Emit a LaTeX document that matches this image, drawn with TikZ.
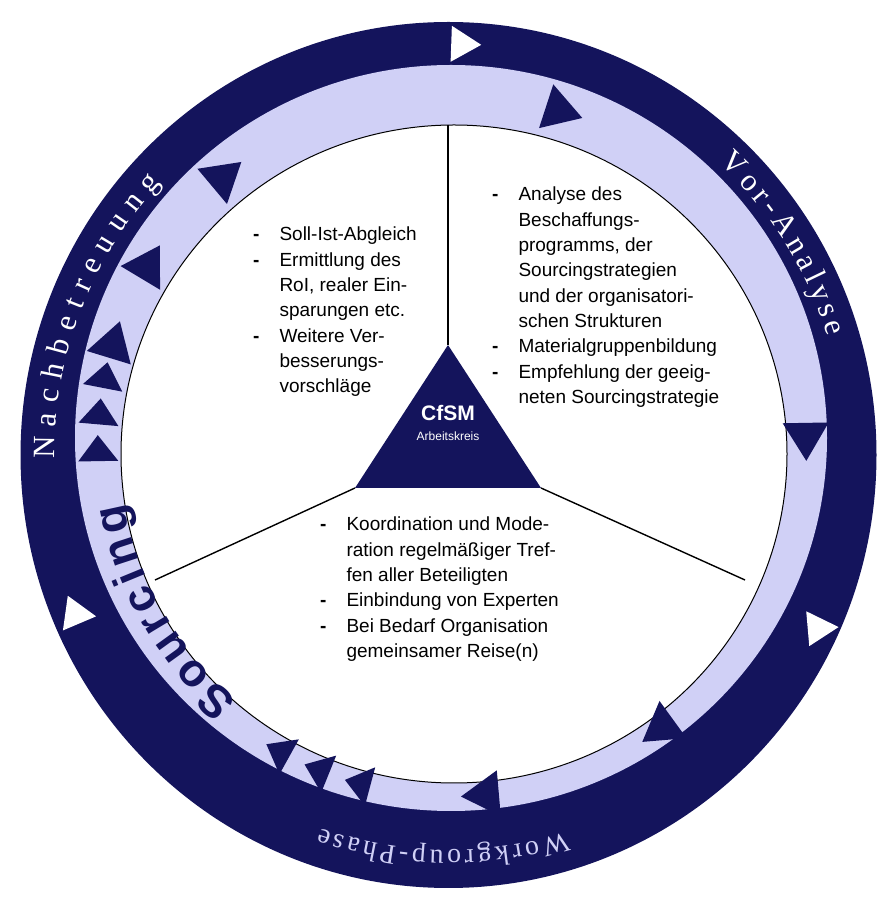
\documentclass[tikz,border=0pt]{standalone}
\usepackage{fontspec}
\setmainfont{Liberation Sans}
\newfontfamily\serifx{Liberation Serif}
\usetikzlibrary{decorations.text}
\definecolor{navy}{RGB}{20,20,92}
\definecolor{lav}{RGB}{208,208,246}
\begin{document}
\begin{tikzpicture}[x=1pt,y=1pt,
  dtri/.style={fill=navy},
  wtri/.style={fill=white},
  ytext/.style={anchor=north west,inner sep=0pt,font=\fontsize{19}{25.3}\selectfont},
  yline/.style={draw=black,line width=1.4pt}]
\useasboundingbox (0,0) rectangle (896,900);
\fill[navy] (448.5,445) ellipse [x radius=428, y radius=433];
\fill[lav] (451,462) ellipse [x radius=376, y radius=373];
\fill[white,draw=black,line width=1pt] (454,446) ellipse [x radius=333, y radius=329];
% dark triangles on light band
\foreach \t in {72,130,149,163,1,-54,-85}{
  \begin{scope}[shift={({452+354*cos(\t)},{455+351*sin(\t)})},rotate=\t-90]
  \fill[dtri] (-16,-23) -- (22,0) -- (-16,23) -- cycle;
  \end{scope}}
\foreach \t in {169,175,181,-105,-112,-119}{
  \begin{scope}[shift={({452+354*cos(\t)},{455+351*sin(\t)})},rotate=\t-90]
  \fill[dtri] (-10,-20) -- (16,0) -- (-10,20) -- cycle;
  \end{scope}}
% white triangles on dark band
\foreach \t in {88,-26,203}{
  \begin{scope}[shift={({450+408*cos(\t)},{448+408*sin(\t)})},rotate=\t-90]
  \fill[wtri] (-13,-18) -- (17,0) -- (-13,18) -- cycle;
  \end{scope}}
% Y lines and centre triangle
\coordinate (top) at (448,775);
\coordinate (apex) at (448,555);
\coordinate (bl) at (355,412);
\coordinate (br) at (541,412);
\coordinate (el) at (155,320);
\coordinate (er) at (745,320);
\draw[yline] (top) -- (apex);
\draw[yline] (bl) -- (el);
\draw[yline] (br) -- (er);
\fill[navy] (apex) -- (bl) -- (br) -- cycle;
\node[white,font=\bfseries\fontsize{21}{21}\selectfont] (cfsm) at (448,487) {CfSM};
\node[white,font=\fontsize{12}{12}\selectfont] (ak) at (448,464) {Arbeitskreis};
% text blocks
\node[ytext] (right) at (492,717) {\begin{tabular}{@{}l@{\hspace{20pt}}l@{}}
\textbf{-} & Analyse des\\ & Beschaffungs-\\ & programms, der\\ & Sourcingstrategien\\ & und der organisatori-\\ & schen Strukturen\\
\textbf{-} & Materialgruppenbildung\\ \textbf{-} & Empfehlung der geeig-\\ & neten Sourcingstrategie\end{tabular}};
\node[ytext] (left) at (253,677) {\begin{tabular}{@{}l@{\hspace{20pt}}l@{}}
\textbf{-} & Soll-Ist-Abgleich\\ \textbf{-} & Ermittlung des\\ & RoI, realer Ein-\\ & sparungen etc.\\ \textbf{-} & Weitere Ver-\\ & besserungs-\\ & vorschläge\end{tabular}};
\node[ytext] (bottom) at (320,387) {\begin{tabular}{@{}l@{\hspace{20pt}}l@{}}
\textbf{-} & Koordination und Mode-\\ & ration regelmäßiger Tref-\\ & fen aller Beteiligten\\ \textbf{-} & Einbindung von Experten\\ \textbf{-} & Bei Bedarf Organisation\\ & gemeinsamer Reise(n)\end{tabular}};
% curved labels
\path[decorate,decoration={text along path,text align=fit to path,text color=white,
  text={|\serifx\fontsize{31}{31}\selectfont|Vor-Analyse}}]
  ({450+395*cos(47)},{448+395*sin(47)}) arc[start angle=47,end angle=17,radius=395];
\path[decorate,decoration={text along path,text align=fit to path,text color=white,
  text={|\serifx\fontsize{31}{31}\selectfont|Nachbetreuung}}]
  ({450+395*cos(181)},{448+395*sin(181)}) arc[start angle=181,end angle=137,radius=395];
\path[decorate,decoration={text along path,text align=fit to path,text color=lav,
  text={|\serifx\fontsize{28}{28}\selectfont|Workgroup-Phase}}]
  ({450+398*cos(-73)},{448+398*sin(-73)}) arc[start angle=-73,end angle=-109,radius=398];
\path[decorate,decoration={text along path,text align=fit to path,text color=navy,
  text={|\bfseries\fontsize{46}{46}\selectfont|Sourcing}}]
  ({452+333*cos(230)},{455+333*sin(230)}) arc[start angle=230,end angle=190,radius=333];
\end{tikzpicture}
\end{document}
